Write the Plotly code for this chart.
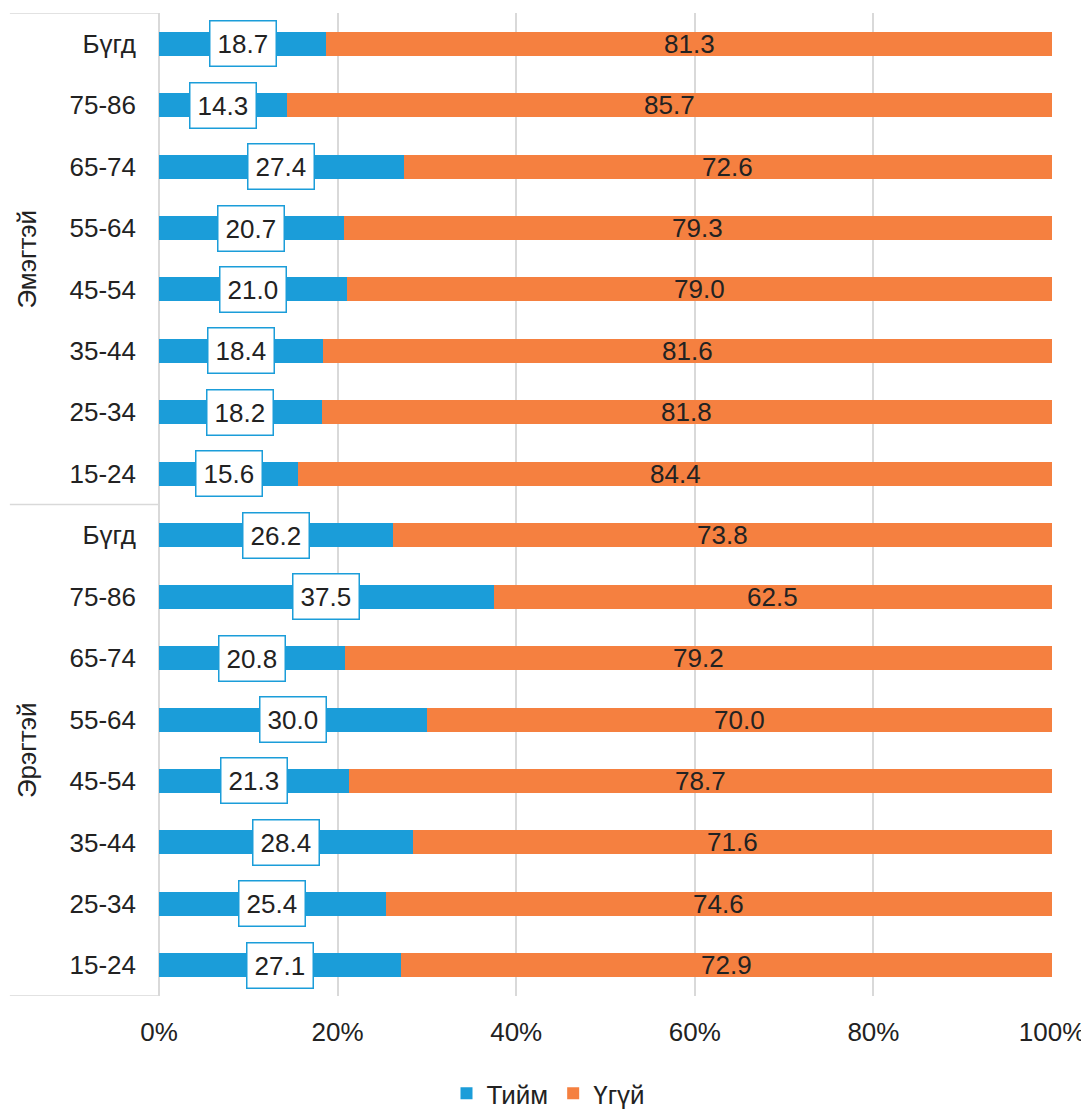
import plotly.graph_objects as go

# ---- data ----
age_groups = ["Бүгд", "75-86", "65-74", "55-64", "45-54", "35-44", "25-34", "15-24"]
sex_groups = ["Эмэгтэй", "Эрэгтэй"]
women_yes = [18.7, 14.3, 27.4, 20.7, 21.0, 18.4, 18.2, 15.6]
women_no = [81.3, 85.7, 72.6, 79.3, 79.0, 81.6, 81.8, 84.4]
men_yes = [26.2, 37.5, 20.8, 30.0, 21.3, 28.4, 25.4, 27.1]
men_no = [73.8, 62.5, 79.2, 70.0, 78.7, 71.6, 74.6, 72.9]
series_names = ["Тийм", "Үгүй"]
x_ticks = [0, 20, 40, 60, 80, 100]
x_ticktext = ["0%", "20%", "40%", "60%", "80%", "100%"]

BLUE = "#1b9dd9"
ORANGE = "#f58040"
GRID = "#d9d9d9"
TXT = "#222222"
FONT = "Liberation Sans, Arial, sans-serif"
FS = 26

yes_vals = women_yes + men_yes
no_vals = women_no + men_no
labels = age_groups + age_groups
n = len(labels)
ypos = list(range(n))  # 0 = top (axis reversed)

fig = go.Figure()
fig.add_trace(go.Bar(y=ypos, x=yes_vals, orientation="h", name=series_names[0],
                     marker=dict(color=BLUE, line=dict(width=0)), width=0.39))
fig.add_trace(go.Bar(y=ypos, x=no_vals, orientation="h", name=series_names[1],
                     marker=dict(color=ORANGE, line=dict(width=0)), width=0.39))

annotations = []
for i in range(n):
    annotations.append(dict(x=yes_vals[i] / 2, y=ypos[i], xref="x", yref="y",
                            text=f"{yes_vals[i]:.1f}", showarrow=False,
                            font=dict(size=FS, color=TXT, family=FONT),
                            bgcolor="white", bordercolor=BLUE, borderwidth=1.5,
                            borderpad=7))
    annotations.append(dict(x=yes_vals[i] + no_vals[i] / 2, y=ypos[i], xref="x", yref="y",
                            text=f"{no_vals[i]:.1f}", showarrow=False,
                            font=dict(size=FS, color=TXT, family=FONT)))

# group labels
k = len(age_groups)
for g, name in enumerate(sex_groups):
    mid = g * k + (k - 1) / 2
    annotations.append(dict(x=-0.148, y=mid, xref="paper", yref="y", text=name,
                            textangle=-90, showarrow=False, xanchor="center",
                            yanchor="middle",
                            font=dict(size=FS, color=TXT, family=FONT)))

shapes = []
for yb in [-0.5, k - 0.5, n - 0.5]:
    shapes.append(dict(type="line", xref="paper", yref="y", x0=-0.167, x1=0,
                       y0=yb, y1=yb, line=dict(color=GRID, width=1.5)))

fig.update_layout(
    barmode="stack",
    width=1081, height=1102,
    margin=dict(l=151, r=37, t=5, b=114),
    paper_bgcolor="white", plot_bgcolor="white",
    font=dict(family=FONT, size=FS, color=TXT),
    showlegend=True,
    legend=dict(orientation="h", xref="container", yref="container",
                x=0.5, xanchor="center", y=0.015, yanchor="middle",
                traceorder="normal",
                font=dict(size=FS, color=TXT), itemwidth=30),
    annotations=annotations,
    shapes=shapes,
    xaxis=dict(range=[0, 100], tickvals=x_ticks, ticktext=x_ticktext,
               showgrid=True, gridcolor=GRID, gridwidth=1.5,
               zeroline=True, zerolinecolor=GRID, zerolinewidth=1.5,
               showline=False, ticks="", ticklabelstandoff=18, fixedrange=True),
    yaxis=dict(range=[n - 0.5, -0.5], tickvals=ypos, ticktext=labels,
               showgrid=False, zeroline=False, showline=False, ticks="",
               ticklabelstandoff=22),
)

fig.write_html("out.html")
